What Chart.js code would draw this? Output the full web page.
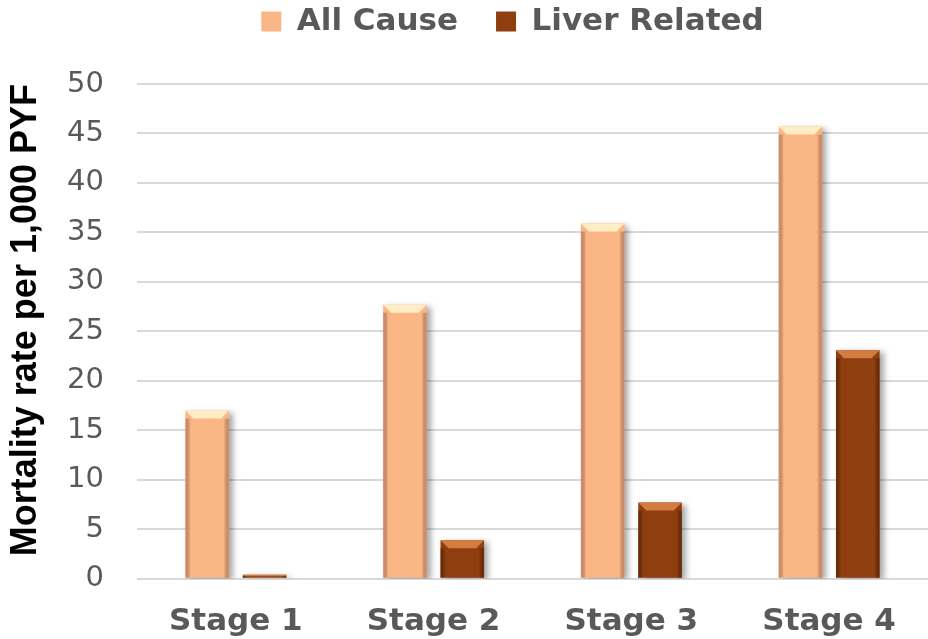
<!DOCTYPE html>
<html>
<head>
<meta charset="utf-8">
<script src="https://cdn.jsdelivr.net/npm/chart.js@4/dist/chart.umd.min.js"></script>
<style>
  html, body { margin: 0; padding: 0; background: #fff; }
  #wrap { width: 928px; height: 639px; }
</style>
</head>
<body>
<div id="wrap"><canvas id="c"></canvas></div>
<script>
const stages = ['Stage 1', 'Stage 2', 'Stage 3', 'Stage 4'];
const allCause = [17, 27.7, 35.9, 45.7];
const liverRelated = [0.4, 3.9, 7.7, 23.1];
const yTicks = [0, 5, 10, 15, 20, 25, 30, 35, 40, 45, 50];

const peach = '#fbb686';
const brown = '#8f3e10';

// soft drop shadow + bevelled top like the office chart
const bevel = {
  id: 'bevel',
  beforeDatasetsDraw(chart) {
    const ctx = chart.ctx;
    ctx.save();
    ctx.shadowColor = 'rgba(0,0,0,0.35)';
    ctx.shadowBlur = 6;
    ctx.shadowOffsetX = 4;
    ctx.shadowOffsetY = 2;
  },
  afterDatasetsDraw(chart) {
    const ctx = chart.ctx;
    ctx.restore();
    chart.data.datasets.forEach((ds, i) => {
      const meta = chart.getDatasetMeta(i);
      const light = i === 0 ? 'rgba(255,240,200,0.95)' : 'rgba(220,130,70,0.9)';
      const edge = i === 0 ? 'rgba(190,120,80,0.6)' : 'rgba(80,30,5,0.6)';
      meta.data.forEach(bar => {
        const left = bar.x - bar.width / 2;
        const right = bar.x + bar.width / 2;
        const h = bar.base - bar.y;
        const d = Math.min(8, h / 2);
        ctx.save();
        ctx.fillStyle = light;
        ctx.beginPath();
        ctx.moveTo(left, bar.y);
        ctx.lineTo(right, bar.y);
        ctx.lineTo(right - d, bar.y + d);
        ctx.lineTo(left + d, bar.y + d);
        ctx.closePath();
        ctx.fill();
        const g = ctx.createLinearGradient(left, 0, right, 0);
        g.addColorStop(0, edge);
        g.addColorStop(0.12, 'rgba(0,0,0,0)');
        g.addColorStop(0.88, 'rgba(0,0,0,0)');
        g.addColorStop(1, edge);
        ctx.fillStyle = g;
        ctx.fillRect(left, bar.y + d, right - left, h - d);
        ctx.restore();
      });
    });
  }
};

// extra room under the legend, and nudge it a bit to the left
const legendGap = {
  id: 'legendGap',
  beforeInit(chart) {
    const fit = chart.legend.fit;
    chart.legend.fit = function () {
      fit.bind(chart.legend)();
      this.height += 37;
    };
  },
  afterLayout(chart) {
    chart.legend.left -= 20;
    chart.legend.right -= 20;
  }
};

new Chart(document.getElementById('c'), {
  type: 'bar',
  data: {
    labels: stages,
    datasets: [
      { label: 'All Cause', data: allCause, backgroundColor: peach, borderWidth: 0 },
      { label: 'Liver Related', data: liverRelated, backgroundColor: brown, borderWidth: 0 }
    ]
  },
  options: {
    responsive: true,
    maintainAspectRatio: false,
    animation: false,
    datasets: { bar: { categoryPercentage: 0.58, barPercentage: 0.76 } },
    layout: { padding: { left: 8, right: 0, top: -32, bottom: -27 } },
    plugins: {
      tooltip: { enabled: false },
      legend: {
        position: 'top',
        fullSize: false,
        labels: {
          color: '#595959',
          font: { family: 'DejaVu Sans', size: 31, weight: 'bold' },
          boxWidth: 20,
          boxHeight: 20,
          padding: 38
        }
      }
    },
    scales: {
      x: {
        grid: { display: false, drawTicks: false },
        border: { display: false },
        ticks: {
          color: '#595959',
          padding: 25,
          font: { family: 'DejaVu Sans', size: 31, weight: 'bold' }
        }
      },
      y: {
        min: 0,
        max: 50,
        afterBuildTicks(axis) { axis.ticks = yTicks.map(v => ({ value: v })); },
        grid: { color: '#d9d9d9', lineWidth: 2, drawTicks: false },
        border: { display: false },
        ticks: {
          color: '#595959',
          padding: 33,
          font: { family: 'DejaVu Sans', size: 29 }
        },
        title: {
          display: true,
          align: 'end',
          text: 'Mortality rate per 1,000 PYF',
          color: '#000',
          padding: { top: 0, bottom: -11 },
          font: { family: 'Liberation Sans', size: 36, weight: 'bold', lineHeight: 1.03 }
        }
      }
    }
  },
  plugins: [bevel, legendGap]
});
</script>
</body>
</html>
